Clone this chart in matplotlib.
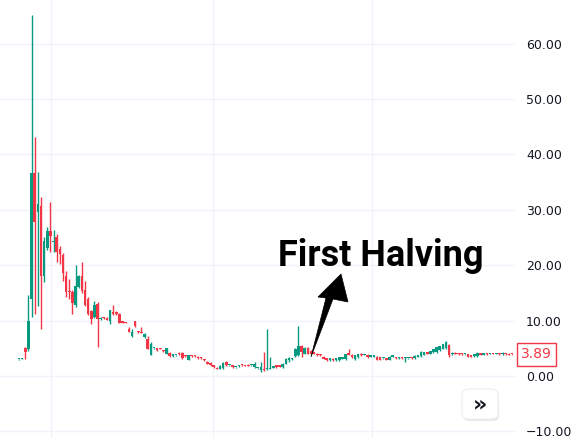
import matplotlib
matplotlib.use("Agg")
import matplotlib.pyplot as plt
from matplotlib.patches import Polygon, FancyBboxPatch
import numpy as np

# ---- data: weekly candles (open, high, low, close) ----
opens = []
highs = []
lows = []
closes = []
candles = [
    (3.0, 3.1, 2.9, 3.1), (3.1, 3.2, 3.0, 3.2), (5.0, 5.2, 3.1, 4.3), (4.9, 14.6, 4.6, 9.9),
    (13.9, 65.2, 10.6, 36.6), (36.6, 43.1, 11.2, 27.8), (29.6, 36.8, 12.6, 31.0), (30.7, 32.3, 8.5, 18.0),
    (18.0, 25.1, 16.9, 24.4), (23.2, 26.9, 22.8, 26.2), (26.2, 31.4, 22.4, 25.3), (24.2, 26.4, 22.4, 24.4),
    (25.1, 25.6, 20.6, 22.4), (22.9, 23.5, 20.2, 22.0), (21.8, 22.2, 17.1, 18.6), (18.0, 19.0, 14.3, 15.2),
    (15.3, 17.5, 13.9, 15.2), (15.2, 15.6, 11.2, 13.2), (12.8, 20.0, 12.5, 16.2), (16.1, 18.2, 15.8, 18.0),
    (18.0, 20.6, 15.0, 15.3), (15.5, 17.1, 12.6, 12.8), (13.9, 14.2, 11.0, 11.2), (11.7, 12.0, 9.4, 10.3),
    (10.6, 13.5, 10.4, 12.8), (13.0, 13.3, 5.2, 10.3), (10.3, 10.7, 10.2, 10.5), (10.5, 10.6, 10.3, 10.4),
    (10.5, 10.6, 10.1, 10.2), (9.9, 12.0, 9.4, 11.9), (11.6, 12.8, 11.0, 11.2), (11.6, 11.7, 11.1, 11.2),
    (11.2, 11.4, 9.5, 9.6), (9.9, 10.0, 9.5, 9.6), (9.7, 9.8, 9.5, 9.6), (8.5, 8.8, 7.9, 8.0),
    (7.2, 8.5, 7.1, 7.9), (9.9, 10.0, 8.9, 9.0), (8.0, 8.1, 7.8, 7.9), (7.9, 8.8, 7.7, 7.8),
    (7.0, 7.7, 6.9, 7.6), (6.7, 7.2, 4.8, 4.9), (3.8, 6.2, 3.7, 5.8), (5.0, 5.1, 4.9, 5.0),
    (5.0, 5.1, 4.6, 4.7), (4.9, 5.0, 4.8, 4.85), (4.6, 4.7, 4.4, 4.5), (4.0, 5.0, 3.9, 5.0),
    (4.2, 4.3, 3.5, 3.6), (3.6, 4.0, 3.5, 3.9), (3.7, 3.8, 3.6, 3.7), (4.2, 4.3, 3.8, 3.9),
    (4.2, 4.3, 3.1, 3.2), (3.7, 3.8, 3.5, 3.6), (2.9, 3.8, 2.8, 3.7), (3.7, 3.8, 3.5, 3.6),
    (3.7, 3.8, 3.5, 3.6), (3.5, 3.6, 3.1, 3.2),
    (3.4, 3.5, 3.1, 3.2), (3.0, 3.1, 2.7, 2.8), (2.6, 2.7, 2.1, 2.2), (2.4, 2.5, 1.8, 1.9),
    (1.9, 2.0, 1.5, 1.6), (1.5, 1.6, 1.2, 1.3), (1.3, 1.9, 1.2, 1.8), (1.5, 2.5, 1.3, 2.3),
    (2.5, 2.7, 1.8, 1.9), (1.9, 2.0, 1.8, 1.95), (1.9, 2.0, 1.5, 1.6), (1.6, 1.7, 1.5, 1.65),
    (1.8, 1.9, 1.7, 1.8), (2.0, 2.1, 1.8, 1.9), (1.9, 2.0, 1.8, 1.85), (2.0, 2.1, 1.8, 1.8),
    (1.9, 1.95, 1.8, 1.9), (1.6, 2.5, 1.5, 2.1), (1.4, 1.5, 1.3, 1.45), (1.1, 2.5, 0.8, 1.6),
    (1.3, 4.3, 0.9, 1.0), (1.2, 8.5, 1.1, 1.4), (1.3, 3.4, 1.2, 1.4), (1.5, 1.6, 1.4, 1.6),
    (1.9, 2.0, 1.5, 1.6), (1.9, 2.0, 1.6, 1.6), (1.6, 2.3, 1.5, 2.2), (2.2, 3.2, 2.1, 3.1),
    (2.8, 3.4, 2.6, 3.3),
    (3.0, 3.3, 2.9, 3.2), (3.6, 5.0, 3.5, 4.9), (3.8, 9.0, 3.6, 5.4), (5.4, 5.6, 3.4, 4.3),
    (4.0, 5.3, 3.9, 5.1), (5.1, 5.3, 3.9, 4.0), (4.5, 4.7, 3.9, 4.0), (4.3, 4.4, 3.9, 4.0),
    (4.0, 4.1, 3.6, 3.7), (3.9, 4.0, 3.6, 3.7), (3.5, 3.6, 3.0, 3.1), (3.2, 3.3, 2.7, 2.8),
    (2.8, 3.3, 2.7, 3.2), (3.1, 3.2, 2.7, 2.8), (2.8, 3.2, 2.7, 3.2), (2.8, 3.4, 2.7, 3.4),
    (3.1, 3.4, 3.0, 3.4), (3.0, 3.9, 2.9, 3.9), (4.1, 4.9, 3.8, 3.8), (3.8, 3.9, 3.3, 3.4),
    (3.0, 3.8, 2.9, 3.7), (3.4, 4.0, 3.3, 4.0), (4.0, 4.1, 3.6, 3.7), (3.8, 3.9, 3.7, 3.85),
    (3.8, 3.9, 3.3, 3.4), (3.5, 3.6, 3.4, 3.55), (3.5, 3.6, 3.4, 3.55), (3.5, 3.6, 2.9, 2.95),
    (3.4, 3.5, 2.9, 2.95), (3.2, 3.3, 3.1, 3.25), (3.2, 3.3, 2.9, 2.95), (2.95, 3.6, 2.9, 3.5),
    (3.5, 3.6, 3.4, 3.55), (3.4, 3.5, 3.1, 3.2), (3.2, 3.4, 3.1, 3.3), (3.4, 3.5, 3.1, 3.2),
    (3.2, 3.4, 2.6, 3.4), (3.2, 3.3, 3.1, 3.25),
    (3.3, 3.4, 3.1, 3.2), (3.2, 3.7, 3.1, 3.6), (3.5, 3.8, 3.4, 3.7), (3.6, 4.5, 3.5, 4.3),
    (3.8, 4.3, 3.7, 4.3), (4.3, 4.4, 3.9, 4.0), (4.0, 4.6, 3.9, 4.5), (4.3, 4.9, 4.2, 4.9),
    (4.3, 5.3, 4.2, 5.2), (4.7, 5.5, 4.6, 5.5), (4.9, 5.8, 4.8, 5.8), (5.0, 6.3, 4.9, 6.1),
    (5.6, 5.7, 3.5, 3.8), (3.9, 4.3, 3.8, 4.2), (4.2, 4.3, 3.9, 4.0), (4.1, 4.2, 3.8, 3.9),
    (4.0, 4.1, 3.8, 3.9), (3.9, 4.0, 3.8, 3.95), (3.9, 4.0, 3.4, 3.5), (3.7, 3.8, 3.4, 3.5),
    (3.6, 4.0, 3.5, 3.9), (3.6, 4.3, 3.5, 4.2), (4.1, 4.2, 3.7, 3.8), (3.8, 4.2, 3.7, 4.1),
    (4.1, 4.2, 3.8, 3.9), (4.0, 4.1, 3.9, 4.05), (4.0, 4.1, 3.9, 3.95), (4.0, 4.1, 3.9, 4.05),
    (4.0, 4.1, 3.8, 3.9), (3.9, 4.3, 3.8, 4.2), (4.1, 4.2, 3.8, 3.9), (4.0, 4.1, 3.7, 3.8),
    (3.95, 4.0, 3.8, 3.89),
]
for o, h, l, c in candles:
    opens.append(o); highs.append(h); lows.append(l); closes.append(c)

y_ticks = [-10, 0, 10, 20, 30, 40, 50, 60]
y_tick_labels = ["\u221210.00", "0.00", "10.00", "20.00", "30.00", "40.00", "50.00", "60.00"]
last_price_label = "3.89"
annotation_text = "First Halving"

GREEN = "#089981"
RED = "#f23645"
GRID = "#f0f3fa"
TXT = "#131722"

W, H = 578, 438
fig = plt.figure(figsize=(W / 100, H / 100), dpi=100)
fig.patch.set_facecolor("white")
plot_right_px = 515
ax = fig.add_axes([0, 0, plot_right_px / W, 1])

n = len(opens)
x = np.arange(n)
o = np.array(opens); h = np.array(highs); l = np.array(lows); c = np.array(closes)
up = c >= o
cols = np.where(up, GREEN, RED)

first_px, last_px = 19, 512
s = (last_px - first_px) / (n - 1)
ax.set_xlim(-first_px / s, (n - 1) + (plot_right_px - last_px) / s)
ax.set_ylim(-11.2, 67.9)

# grid
for yt in y_ticks:
    ax.axhline(yt, color=GRID, lw=1, zorder=0)
for gx in [51, 213, 372]:
    ax.axvline((gx - first_px) / s, color=GRID, lw=1, zorder=0)

ax.vlines(x, l, h, colors=cols, lw=1.0, zorder=2)
bottom = np.minimum(o, c)
height = np.maximum(np.abs(c - o), 0.22)
ax.bar(x, height, bottom=bottom, width=0.82, color=cols, lw=0, zorder=3)

ax.yaxis.tick_right()
ax.set_yticks(y_ticks)
ax.set_yticklabels(y_tick_labels)
ax.tick_params(axis="y", length=0, pad=8, labelsize=9, labelcolor=TXT)
ax.set_xticks([])
for sp in ax.spines.values():
    sp.set_visible(False)

# last price label
fig.text(521 / W, ax.transData.transform((0, c[-1]))[1] / H, last_price_label,
         color=RED, fontsize=10, ha="left", va="center",
         bbox=dict(boxstyle="square,pad=0.3", fc="white", ec=RED, lw=1))

# annotation text and arrow
fig.text(278 / W, 1 - 266 / H, annotation_text, fontsize=26, fontweight="bold",
         family=["Roboto", "DejaVu Sans"], color="black", ha="left", va="baseline")
arrow_px = [(311, 357), (326, 298), (318, 297), (341, 274), (348, 302), (333, 299)]
arrow = Polygon([(px / W, 1 - py / H) for px, py in arrow_px], closed=True,
                transform=fig.transFigure, fc="black", ec="black", lw=0.5)
fig.patches.append(arrow)

# scroll button
shadow = FancyBboxPatch((463 / W, 1 - 421 / H), 36 / W, 30 / H,
                        boxstyle="round,pad=0,rounding_size=0.012",
                        transform=fig.transFigure, fc="#e6e8ee", ec="none")
btn = FancyBboxPatch((462 / W, 1 - 419 / H), 36 / W, 30 / H,
                     boxstyle="round,pad=0,rounding_size=0.012",
                     transform=fig.transFigure, fc="white", ec="#eeeeee", lw=0.8)
fig.patches.append(shadow)
fig.patches.append(btn)
fig.text(480 / W, 1 - 404 / H, "\u00bb", fontsize=16, fontweight="bold",
         color=TXT, ha="center", va="center")

fig.savefig("out.png", dpi=100, facecolor="white")
